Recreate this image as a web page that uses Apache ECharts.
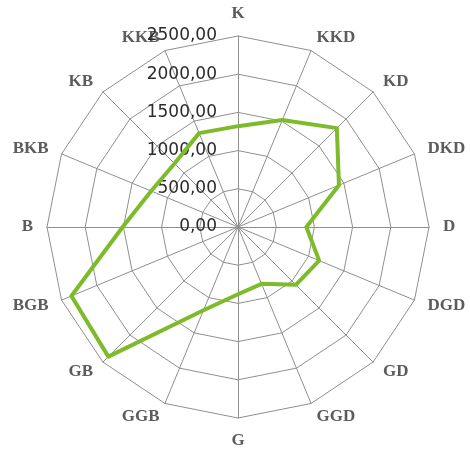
<!DOCTYPE html>
<html>
<head>
<meta charset="utf-8">
<script src="https://cdn.jsdelivr.net/npm/echarts@6/dist/echarts.min.js"></script>
<style>
  html, body { margin: 0; padding: 0; background: #fff; }
  #rose { width: 470px; height: 461px; }
</style>
</head>
<body>
<div id="rose"></div>
<script>
// directions in the order echarts lays them out (counter-clockwise from top)
var directions = ['K', 'KKB', 'KB', 'BKB', 'B', 'BGB', 'GB', 'GGB', 'G', 'GGD', 'GD', 'DGD', 'D', 'DKD', 'KD', 'KKD'];
var values = [1320, 1330, 1175, 1230, 1510, 2360, 2400, 1180, 880, 805, 1070, 1150, 895, 1430, 1830, 1515];
var tickLabels = ['0,00', '500,00', '1000,00', '1500,00', '2000,00', '2500,00'];

var chart = echarts.init(document.getElementById('rose'));

var indicator = [];
for (var i in directions) {
  var ind = { name: directions[i], min: 0, max: 2500 };
  // only the north axis carries the scale labels
  if (i == 0) {
    ind.axisLabel = {
      show: true,
      color: '#2b2b2b',
      fontSize: 17,
      fontFamily: 'DejaVu Sans',
      margin: 21,
      verticalAlign: 'middle',
      formatter: function (v) { return tickLabels[Math.round(v / 500)]; }
    };
  }
  indicator.push(ind);
}

var option = {
  animation: false,
  radar: {
    center: [238, 227],
    radius: 191,
    startAngle: 90,
    shape: 'polygon',
    splitNumber: 5,
    indicator: indicator,
    nameGap: 14,
    axisName: {
      color: '#5c5c5c',
      fontSize: 17,
      fontWeight: 'bold',
      fontFamily: 'Liberation Serif'
    },
    axisLabel: { show: false },
    axisLine: { lineStyle: { color: '#8f8f8f', width: 1 } },
    splitLine: { lineStyle: { color: '#8f8f8f', width: 1 } },
    splitArea: { show: false }
  },
  series: [
    {
      type: 'radar',
      symbol: 'none',
      lineStyle: { color: '#7dbb2a', width: 4 },
      data: [{ value: values }]
    }
  ]
};

chart.setOption(option);
</script>
</body>
</html>
